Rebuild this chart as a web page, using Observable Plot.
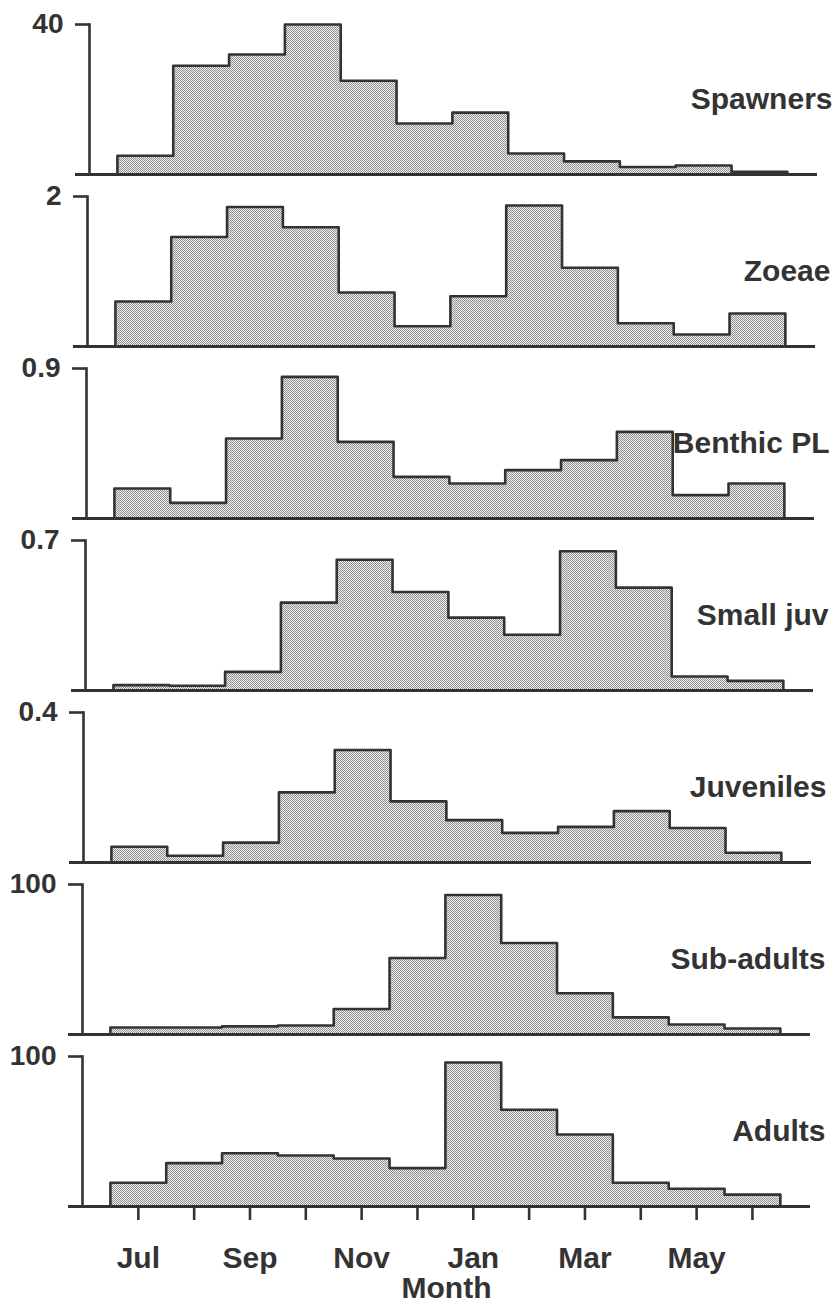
<!DOCTYPE html>
<html>
<head>
<meta charset="utf-8">
<script src="https://cdn.jsdelivr.net/npm/d3@7"></script>
<script src="https://cdn.jsdelivr.net/npm/@observablehq/plot@0.6"></script>
<style>
  html, body { margin: 0; padding: 0; background: #fff; }
  #chart { padding-top: 6px; width: 837px; }
  #chart svg { display: block; }
</style>
</head>
<body>
<svg width="0" height="0" style="position:absolute">
  <defs>
    <pattern id="stipple" width="2" height="2" patternUnits="userSpaceOnUse">
      <rect width="2" height="2" fill="#eeeeee"></rect>
      <rect width="1" height="1" fill="#909090"></rect>
      <rect x="1" y="1" width="1" height="1" fill="#909090"></rect>
    </pattern>
  </defs>
</svg>
<div id="chart"></div>
<script>
// Months (July to June) and which ones carry labels
const months = ["Jul","Aug","Sep","Oct","Nov","Dec","Jan","Feb","Mar","Apr","May","Jun"];
const labeledMonths = ["Jul","Sep","Nov","Jan","Mar","May"];

// Life stages (panel labels) and the single y tick at the top of each panel
const stages = ["Spawners","Zoeae","Benthic PL","Small juv","Juveniles","Sub-adults","Adults"];
const axisTops = [40, 2, 0.9, 0.7, 0.4, 100, 100];

// Monthly values per stage (Jul ... Jun)
const spawners  = [5, 29, 32, 40, 25, 13.6, 16.5, 5.6, 3.5, 2, 2.4, 0.7];
const zoeae     = [0.60, 1.46, 1.86, 1.59, 0.72, 0.27, 0.67, 1.88, 1.05, 0.31, 0.16, 0.44];
const benthicPL = [0.18, 0.094, 0.48, 0.85, 0.46, 0.25, 0.21, 0.29, 0.35, 0.52, 0.14, 0.21];
const smallJuv  = [0.025, 0.022, 0.087, 0.41, 0.61, 0.46, 0.34, 0.26, 0.65, 0.48, 0.065, 0.045];
const juveniles = [0.042, 0.018, 0.053, 0.187, 0.30, 0.163, 0.113, 0.079, 0.095, 0.137, 0.092, 0.026];
const subAdults = [4.7, 4.7, 5.4, 6, 17, 51, 93, 61, 27.5, 11.4, 6.7, 4];
const adults    = [15.8, 28.9, 35.5, 34, 32, 25.6, 96, 64.5, 48, 15.8, 11.8, 7.9];

const series = [spawners, zoeae, benthicPL, smallJuv, juveniles, subAdults, adults];

// layout: small horizontal drift of each panel in the original figure (px)
const panelShift = [7, 5, 4, 3, 1, 0, 0];

const INK = "#333";
const FONT = "'Liberation Sans', Arial, Helvetica, sans-serif";

function panel(i) {
  const values = series[i];
  const top = axisTops[i];
  const last = i === series.length - 1;
  const s = panelShift[i];
  // step outline of the monthly histogram: rises at left edge of first month, falls at right edge of last
  const outline = [{month: -0.5, value: 0}]
    .concat(values.map((v, k) => ({month: k - 0.5, value: v})))
    .concat([{month: values.length - 0.5, value: values[values.length - 1]},
             {month: values.length - 0.5, value: 0}]);

  const marks = [
    Plot.areaY(outline, {x: "month", y: "value", curve: "step-after", fill: "url(#stipple)"}),
    Plot.lineY(outline, {x: "month", y: "value", curve: "step-after", stroke: INK, strokeWidth: 2.6}),
    Plot.ruleY([0], {stroke: INK, strokeWidth: 3, insetLeft: -14}),
    Plot.frame({anchor: "left", stroke: INK, strokeWidth: 2.6}),
    Plot.axisY({ticks: [top], tickSize: 14, tickPadding: 12, strokeWidth: 2.6, label: null,
                fontSize: 28, fontWeight: "bold", tickFormat: d => String(d)}),
    Plot.text([stages[i]], {frameAnchor: "right", dx: 15, textAnchor: "end",
                fontSize: 30, fontWeight: "bold", fill: INK})
  ];
  if (last) {
    marks.push(Plot.axisX({
      ticks: d3.range(months.length), tickSize: 14, tickPadding: 26, strokeWidth: 2.6,
      fontSize: 30, fontWeight: "bold", label: null,
      tickFormat: k => labeledMonths.includes(months[k]) ? months[k] : ""
    }));
    marks.push(Plot.text(["Month"], {frameAnchor: "bottom", dy: 82, lineAnchor: "middle",
                fontSize: 30, fontWeight: "bold", fill: INK}));
  }
  return Plot.plot({
    width: 837,
    height: last ? 265 : 172,
    marginTop: 18,
    marginBottom: last ? 97 : 4,
    marginLeft: 82 + s,
    marginRight: 27 - s,
    x: {domain: [-1, 12.04], axis: last ? undefined : null, label: null},
    y: {domain: [0, top], label: null},
    style: {fontFamily: FONT, fontWeight: "bold", color: INK, background: "white", overflow: "visible"},
    marks
  });
}

const root = document.getElementById("chart");
series.forEach((_, i) => root.appendChild(panel(i)));
</script>
</body>
</html>
